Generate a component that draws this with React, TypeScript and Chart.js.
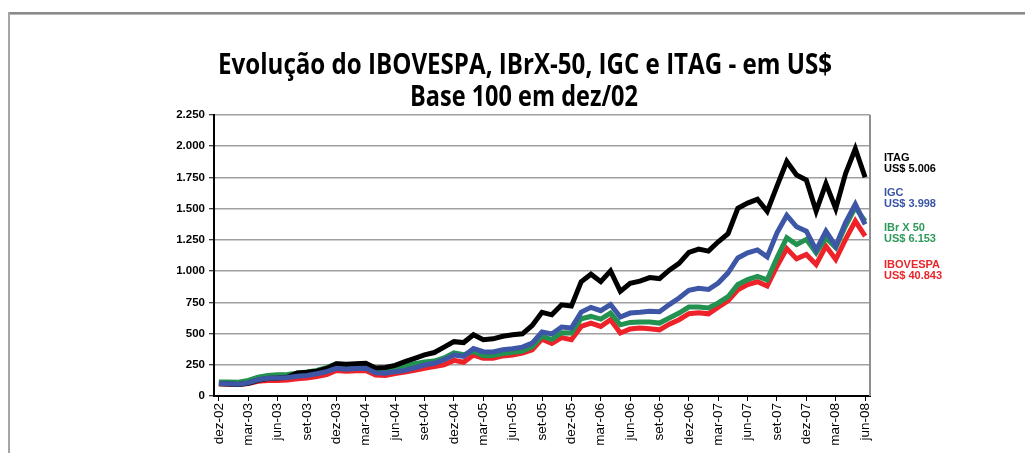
import React, { useEffect, useRef } from "react";
import { Chart, registerables } from "chart.js";

Chart.register(...registerables);

const months: string[] = [
  "dez-02", "jan-03", "fev-03", "mar-03", "abr-03", "mai-03", "jun-03", "jul-03", "ago-03", "set-03", "out-03", "nov-03",
  "dez-03", "jan-04", "fev-04", "mar-04", "abr-04", "mai-04", "jun-04", "jul-04", "ago-04", "set-04", "out-04", "nov-04",
  "dez-04", "jan-05", "fev-05", "mar-05", "abr-05", "mai-05", "jun-05", "jul-05", "ago-05", "set-05", "out-05", "nov-05",
  "dez-05", "jan-06", "fev-06", "mar-06", "abr-06", "mai-06", "jun-06", "jul-06", "ago-06", "set-06", "out-06", "nov-06",
  "dez-06", "jan-07", "fev-07", "mar-07", "abr-07", "mai-07", "jun-07", "jul-07", "ago-07", "set-07", "out-07", "nov-07",
  "dez-07", "jan-08", "fev-08", "mar-08", "abr-08", "mai-08", "jun-08",
];

const itag: number[] = [
  98, 96, 92, 102, 126, 140, 144, 150, 185, 190, 198, 220,
  258, 255, 258, 262, 225, 228, 245, 275, 302, 329, 348, 391,
  435, 428, 490, 450, 458, 478, 490, 498, 565, 670, 650, 730,
  720, 915, 975, 915, 1002, 838, 902, 920, 948, 940, 1008, 1062,
  1150, 1176, 1160, 1235, 1300, 1503, 1545, 1575, 1478, 1680, 1878, 1770,
  1730, 1480, 1700, 1500, 1780, 1980, 1752,
];

const igc: number[] = [
  100, 98, 95, 105, 130, 142, 145, 148, 158, 165, 178, 195,
  222, 215, 220, 222, 185, 182, 195, 205, 225, 248, 262, 290,
  328, 318, 380, 355, 352, 370, 378, 391, 423, 512, 497, 552,
  544, 672, 710, 683, 732, 632, 664, 670, 678, 675, 732, 785,
  846, 862, 853, 905, 986, 1105, 1146, 1170, 1114, 1307, 1446, 1355,
  1320, 1168, 1320, 1200, 1388, 1535, 1374,
];

const ibrx50: number[] = [
  112, 112, 110, 125, 150, 165, 170, 172, 182, 192, 205, 228,
  258, 250, 252, 258, 215, 210, 225, 238, 258, 272, 280, 305,
  345, 330, 358, 322, 325, 340, 350, 360, 395, 480, 452, 507,
  504, 619, 637, 616, 664, 570, 589, 592, 592, 584, 624, 664,
  712, 713, 705, 745, 795, 892, 932, 957, 930, 1106, 1267, 1213,
  1254, 1146, 1267, 1187, 1361, 1510, 1400,
];

const ibovespa: number[] = [
  98, 95, 92, 100, 118, 125, 125, 128, 138, 145, 155, 172,
  205, 198, 202, 205, 168, 165, 180, 192, 205, 222, 235, 250,
  285, 270, 328, 302, 303, 321, 329, 343, 370, 455, 420, 467,
  450, 557, 584, 557, 611, 504, 536, 544, 538, 530, 575, 611,
  659, 666, 658, 712, 762, 850, 892, 915, 880, 1039, 1180, 1098,
  1133, 1053, 1200, 1093, 1254, 1401, 1280,
];

const titleLines: string[] = ["Evolução do IBOVESPA, IBrX-50, IGC e ITAG - em US$", "Base 100 em dez/02"];
const seriesNames: string[] = ["ITAG", "IGC", "IBr X 50", "IBOVESPA"];
const seriesTotals: string[] = ["US$ 5.006", "US$ 3.998", "US$ 6.153", "US$ 40.843"];
const seriesColors: string[] = ["#000000", "#3d56a6", "#23914f", "#ee2229"];
const labelColors: string[] = ["#000000", "#3b55a5", "#2e9a5a", "#e8262b"];

const fmt = (v: number) => String(v).replace(/\B(?=(\d{3})+(?!\d))/g, ".");

// draw text condensed horizontally to a target width, centred on cx
const condensed = (ctx: any, text: string, cx: number, y: number, target: number) => {
  const w = ctx.measureText(text).width;
  const s = Math.min(1, target / w);
  ctx.save();
  ctx.translate(cx, y);
  ctx.scale(s, 1);
  ctx.textAlign = "center";
  ctx.fillText(text, 0, 0);
  ctx.restore();
};

const decor = {
  id: "decor",
  beforeDraw(chart: any) {
    const ctx = chart.ctx;
    ctx.save();
    ctx.fillStyle = "#ffffff";
    ctx.fillRect(0, 0, chart.width, chart.height);
    ctx.fillStyle = "#8a8a8a";
    ctx.fillRect(8, 12, chart.width - 8, 2);
    ctx.fillStyle = "#b5b5b5";
    ctx.fillRect(8, 14, chart.width - 8, 1);
    ctx.fillStyle = "#a5a5a5";
    ctx.fillRect(8, 12, 2, chart.height - 12);
    ctx.restore();
  },
  beforeDatasetsDraw(chart: any) {
    const { ctx, chartArea } = chart;
    ctx.save();
    ctx.strokeStyle = "#8f8f8f";
    ctx.lineWidth = 2;
    ctx.beginPath();
    ctx.moveTo(chartArea.right, chartArea.top);
    ctx.lineTo(chartArea.right, chartArea.bottom);
    ctx.stroke();
    ctx.restore();
  },
  afterDraw(chart: any) {
    const ctx = chart.ctx;
    ctx.save();
    ctx.fillStyle = "#000";
    ctx.textBaseline = "alphabetic";
    ctx.font = "bold 29px 'Open Sans', 'DejaVu Sans', sans-serif";
    condensed(ctx, titleLines[0], 525, 74, 614);
    condensed(ctx, titleLines[1], 524, 106, 228);
    ctx.textAlign = "left";
    ctx.font = "bold 11px 'Liberation Sans', Arial, sans-serif";
    const bases = [161, 196, 231, 268];
    for (let k = 0; k < 4; k++) {
      ctx.fillStyle = labelColors[k];
      ctx.fillText(seriesNames[k], 884, bases[k]);
      ctx.fillText(seriesTotals[k], 884, bases[k] + 11);
    }
    ctx.restore();
  },
};

export default function App() {
  const ref = useRef<HTMLCanvasElement | null>(null);
  useEffect(() => {
    if (!ref.current) return;
    const mk = (label: string, data: number[], color: string) => ({
      label,
      data,
      borderColor: color,
      backgroundColor: color,
      borderWidth: 5,
      pointRadius: 0,
      tension: 0,
      fill: false,
    });
    // first dataset is painted last (on top)
    const chart = new Chart(ref.current, {
      type: "line",
      data: {
        labels: months,
        datasets: [
          mk("IGC", igc, seriesColors[1]),
          mk("ITAG", itag, seriesColors[0]),
          mk("IBrX-50", ibrx50, seriesColors[2]),
          mk("IBOVESPA", ibovespa, seriesColors[3]),
        ],
      },
      options: {
        responsive: false,
        animation: false,
        devicePixelRatio: 1,
        layout: { padding: { top: 115, right: 155, bottom: 0, left: 0 } },
        plugins: { legend: { display: false }, title: { display: false }, tooltip: { enabled: false } },
        scales: {
          x: {
            type: "category",
            offset: true,
            grid: { display: true, drawOnChartArea: false, offset: false, tickLength: 5, tickColor: "#000", tickWidth: 1 },
            border: { color: "#000", width: 2 },
            ticks: {
              autoSkip: false,
              maxRotation: 90,
              minRotation: 90,
              padding: 2,
              color: "#000",
              font: { size: 13.5, family: "'Liberation Sans', Arial, sans-serif" },
              callback: (_v: any, i: number) => (i % 3 === 0 ? months[i] : null),
            },
            afterFit: (s: any) => { s.height = 57; },
          },
          y: {
            min: 0,
            max: 2250,
            ticks: {
              stepSize: 250,
              color: "#000",
              padding: 4,
              font: { size: 11.5, weight: "bold", family: "'Liberation Sans', Arial, sans-serif" },
              callback: (v: any) => fmt(Number(v)),
            },
            grid: { color: "#a0a0a0", lineWidth: 1.5, tickLength: 5, tickColor: "#000", tickWidth: 1 },
            border: { color: "#000", width: 2 },
            afterFit: (s: any) => { s.width = 214; },
          },
        },
      } as any,
      plugins: [decor],
    });
    return () => chart.destroy();
  }, []);
  return (
    <div style={{ position: "absolute", left: 0, top: 0, width: 1025, height: 453, background: "#fff" }}>
      <canvas ref={ref} width={1025} height={453} style={{ width: 1025, height: 453, display: "block" }} />
    </div>
  );
}
